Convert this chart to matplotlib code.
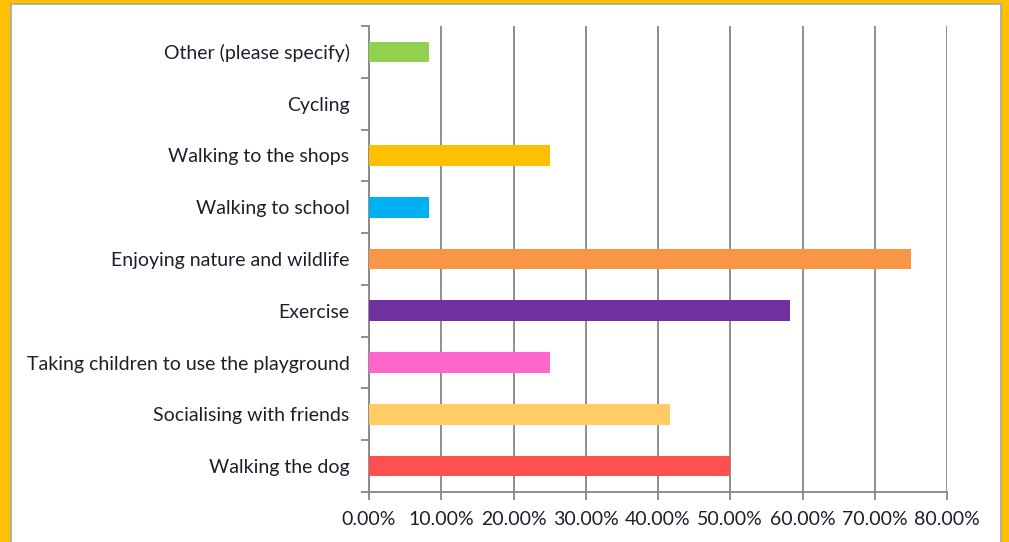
import matplotlib
matplotlib.use("Agg")
import matplotlib.pyplot as plt
from matplotlib.patches import Rectangle
from matplotlib.ticker import FuncFormatter, FixedLocator
import numpy as np

categories = ["Walking the dog", "Socialising with friends",
              "Taking children to use the playground", "Exercise",
              "Enjoying nature and wildlife", "Walking to school",
              "Walking to the shops", "Cycling", "Other (please specify)"]
values = [50.0, 41.67, 25.0, 58.33, 75.0, 8.33, 25.0, 0.0, 8.33]
colors = ["#FF5050", "#FFCC66", "#FF66CC", "#7030A0", "#F79646",
          "#00B0F0", "#FFC000", "#A0A0A0", "#92D050"]
xticks = [0, 10, 20, 30, 40, 50, 60, 70, 80]

plt.rcParams['font.family'] = ['Lato', 'DejaVu Sans']
txt = "#1E1E2E"
grid = "#868686"

fig = plt.figure(figsize=(10.09, 5.42), dpi=100)
# yellow frame with thin grey inner line
fig.patches.append(Rectangle((0, 0), 1, 1, transform=fig.transFigure,
                             facecolor="#FFC000", edgecolor="none", zorder=-3))
fig.patches.append(Rectangle((10.5/1009, -0.05), (1001-10.5)/1009, 1 - 3.5/542 + 0.05,
                             transform=fig.transFigure, facecolor="white",
                             edgecolor="#A6A6A6", linewidth=1.2, zorder=-2))

ax = fig.add_axes([369/1009, 1-492/542, (947-369)/1009, (492-26)/542])
y = np.arange(len(categories))
ax.barh(y, values, height=0.4, color=colors, zorder=3)
ax.set_xlim(0, 80)
ax.set_ylim(-0.5, len(categories) - 0.5)

ax.set_xticks(xticks)
ax.xaxis.set_major_formatter(FuncFormatter(lambda v, p: f"{v:.2f}%"))
ax.grid(axis="x", color=grid, linewidth=1.3, zorder=0)
ax.set_yticks(y)
ax.set_yticklabels(categories)
ax.yaxis.set_minor_locator(FixedLocator(np.arange(-0.5, len(categories), 1)))

for s in ["top", "right"]:
    ax.spines[s].set_visible(False)
for s in ["left", "bottom"]:
    ax.spines[s].set_color(grid)
    ax.spines[s].set_linewidth(1.3)

ax.tick_params(axis="y", which="major", length=0, pad=14, labelsize=14, labelcolor=txt)
ax.tick_params(axis="y", which="minor", length=6, color=grid, width=1.3)
ax.tick_params(axis="x", length=6, color=grid, width=1.3, pad=8, labelsize=14, labelcolor=txt)

fig.savefig("out.png", dpi=100)
